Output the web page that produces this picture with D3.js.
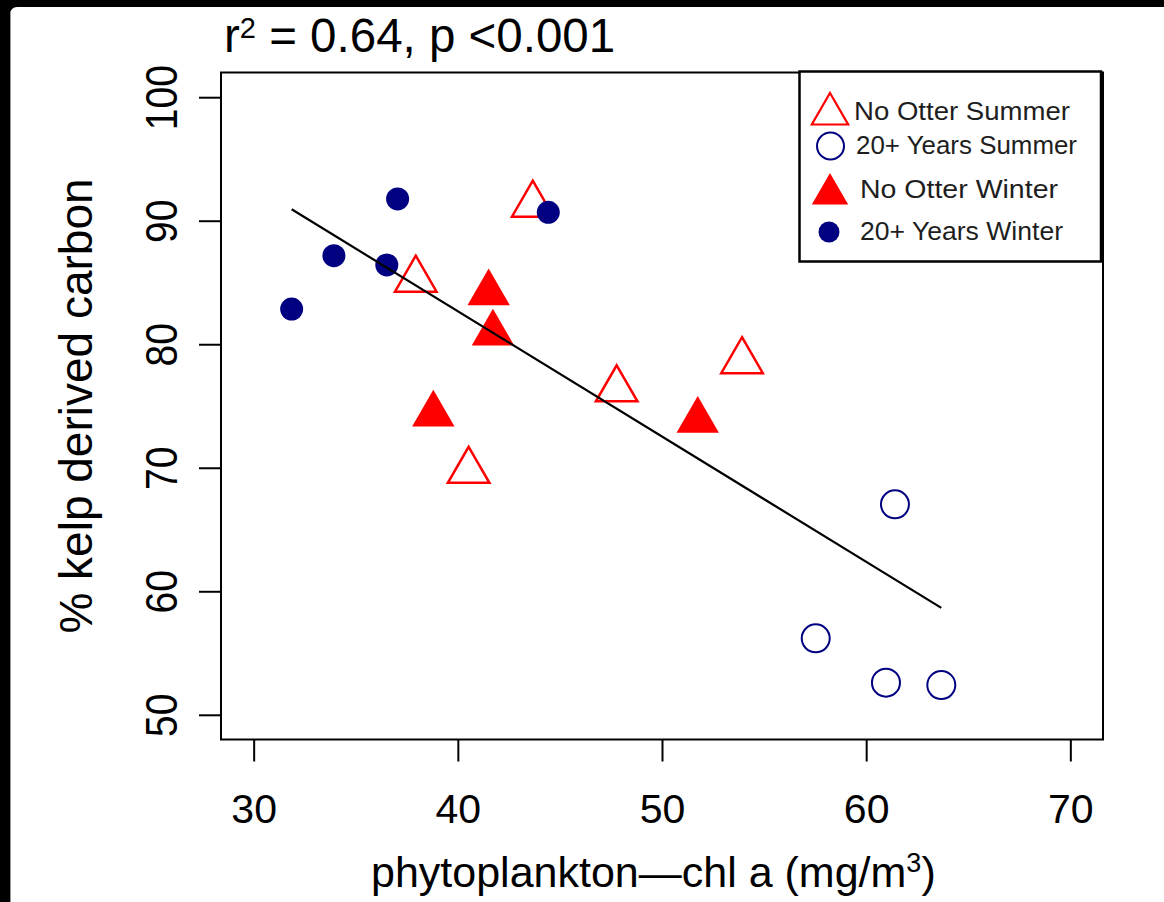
<!DOCTYPE html>
<html>
<head>
<meta charset="utf-8">
<script src="https://cdn.jsdelivr.net/npm/d3@7"></script>
<style>
  html, body { margin: 0; padding: 0; background: #fff; }
  svg { display: block; }
  text { font-family: "Liberation Sans", Arial, sans-serif; }
</style>
</head>
<body>
<svg id="chart" width="1164" height="902"></svg>
<script>
// Kelp-derived carbon vs. phytoplankton chlorophyll a, by site group and season
const noOtterSummerX = [43.67, 37.94, 47.78, 53.92, 40.53];
const noOtterSummerY = [91.30, 85.23, 76.35, 78.63, 69.75];

const yearsSummerX = [61.41, 57.53, 60.97, 63.68];
const yearsSummerY = [67.04, 56.19, 52.60, 52.41];

const noOtterWinterX = [41.51, 41.72, 38.80, 51.75];
const noOtterWinterY = [84.15, 80.89, 74.34, 73.83];

const yearsWinterX = [31.86, 33.93, 36.52, 37.05, 44.43];
const yearsWinterY = [82.85, 87.17, 86.42, 91.76, 90.68];

const xTicks = [30, 40, 50, 60, 70];
const yTicks = [50, 60, 70, 80, 90, 100];
const legendLabels = ["No Otter Summer", "20+ Years Summer", "No Otter Winter", "20+ Years Winter"];

const svg = d3.select("#chart");

// dark frame on the top and left edges
svg.append("rect").attr("x", 0).attr("y", 0).attr("width", 1164).attr("height", 902).attr("fill", "#000");
svg.append("rect").attr("x", 10).attr("y", 7).attr("width", 1200).attr("height", 950)
  .attr("rx", 7).attr("fill", "#fff");
svg.append("line").attr("x1", 10.5).attr("x2", 10.5).attr("y1", 12).attr("y2", 902)
  .attr("stroke", "#9a9a9a").attr("stroke-width", 1);

// scales: limits 30–70 and 50–100 with 4% padding on each side
const xLim = [30, 70], yLim = [50, 100];
const xPad = (xLim[1] - xLim[0]) * 0.04, yPad = (yLim[1] - yLim[0]) * 0.04;
const plot = { left: 221, right: 1103, top: 72.5, bottom: 739.5 };
const x = d3.scaleLinear().domain([xLim[0] - xPad, xLim[1] + xPad]).range([plot.left, plot.right]);
const y = d3.scaleLinear().domain([yLim[0] - yPad, yLim[1] + yPad]).range([plot.bottom, plot.top]);

// x axis
const gx = svg.append("g").attr("transform", `translate(0,${plot.bottom})`)
  .call(d3.axisBottom(x).tickValues(xTicks).tickSize(22).tickPadding(32).tickFormat(d3.format("d")));
gx.select(".domain").remove();
gx.selectAll(".tick line").attr("stroke", "#000").attr("stroke-width", 2);
gx.selectAll(".tick text").attr("font-size", 41).attr("fill", "#000")
  .attr("font-family", "'Liberation Sans', Arial, sans-serif");

// y axis with rotated labels
const gy = svg.append("g").attr("transform", `translate(${plot.left},0)`)
  .call(d3.axisLeft(y).tickValues(yTicks).tickSize(22).tickFormat(d3.format("d")));
gy.select(".domain").remove();
gy.selectAll(".tick line").attr("stroke", "#000").attr("stroke-width", 2);
gy.selectAll(".tick text")
  .attr("x", null).attr("dy", null).attr("y", null)
  .attr("text-anchor", "middle")
  .attr("transform", "translate(-44,0) rotate(-90) scale(1,1.13)")
  .attr("font-size", 39).attr("fill", "#000")
  .attr("font-family", "'Liberation Sans', Arial, sans-serif");

// plot frame
svg.append("rect").attr("x", plot.left).attr("y", plot.top)
  .attr("width", plot.right - plot.left).attr("height", plot.bottom - plot.top)
  .attr("fill", "none").attr("stroke", "#000").attr("stroke-width", 2);

// marker helpers
const tri = r => `M0,${-r}L${r * Math.sqrt(3) / 2},${r / 2}L${-r * Math.sqrt(3) / 2},${r / 2}Z`;
const RED = "#ff0000", NAVY = "#000080";

const pts = (xs, ys) => xs.map((v, i) => ({ x: v, y: ys[i] }));
const layer = svg.append("g");

layer.selectAll(".nos").data(pts(noOtterSummerX, noOtterSummerY)).join("path")
  .attr("d", tri(24)).attr("transform", d => `translate(${x(d.x)},${y(d.y)})`)
  .attr("fill", "none").attr("stroke", RED).attr("stroke-width", 2.5);

layer.selectAll(".ys").data(pts(yearsSummerX, yearsSummerY)).join("circle")
  .attr("cx", d => x(d.x)).attr("cy", d => y(d.y)).attr("r", 14)
  .attr("fill", "none").attr("stroke", NAVY).attr("stroke-width", 2);

layer.selectAll(".now").data(pts(noOtterWinterX, noOtterWinterY)).join("path")
  .attr("d", tri(24.5)).attr("transform", d => `translate(${x(d.x)},${y(d.y)})`)
  .attr("fill", RED);

layer.selectAll(".yw").data(pts(yearsWinterX, yearsWinterY)).join("circle")
  .attr("cx", d => x(d.x)).attr("cy", d => y(d.y)).attr("r", 11.5)
  .attr("fill", NAVY);

// least-squares fit across all samples, drawn over the observed x range
const allX = [...noOtterSummerX, ...yearsSummerX, ...noOtterWinterX, ...yearsWinterX];
const allY = [...noOtterSummerY, ...yearsSummerY, ...noOtterWinterY, ...yearsWinterY];
const mx = d3.mean(allX), my = d3.mean(allY);
const sxy = d3.sum(allX, (v, i) => (v - mx) * (allY[i] - my));
const sxx = d3.sum(allX, v => (v - mx) ** 2);
const slope = sxy / sxx, intercept = my - slope * mx;
const [x0, x1] = d3.extent(allX);
svg.append("line")
  .attr("x1", x(x0)).attr("y1", y(intercept + slope * x0))
  .attr("x2", x(x1)).attr("y2", y(intercept + slope * x1))
  .attr("stroke", "#000").attr("stroke-width", 2.2);

// legend
const lg = svg.append("g");
lg.append("rect").attr("x", 799.5).attr("y", 71.5).attr("width", 301.5).attr("height", 190)
  .attr("fill", "#fff").attr("stroke", "#000").attr("stroke-width", 2.5);
const legendItems = [
  { label: legendLabels[0], kind: "openTri", cy: 114, tx: 854, ty: 120, len: 216 },
  { label: legendLabels[1], kind: "openCirc", cy: 146, tx: 856, ty: 154, len: 221 },
  { label: legendLabels[2], kind: "fillTri", cy: 194, tx: 860, ty: 198, len: 198 },
  { label: legendLabels[3], kind: "fillCirc", cy: 232, tx: 860, ty: 240, len: 203 }
];
legendItems.forEach(it => {
  if (it.kind === "openTri") {
    lg.append("path").attr("d", tri(21)).attr("transform", `translate(830,${it.cy})`)
      .attr("fill", "none").attr("stroke", RED).attr("stroke-width", 2.2);
  } else if (it.kind === "openCirc") {
    lg.append("circle").attr("cx", 830.5).attr("cy", it.cy).attr("r", 13.5)
      .attr("fill", "none").attr("stroke", NAVY).attr("stroke-width", 2);
  } else if (it.kind === "fillTri") {
    lg.append("path").attr("d", tri(21)).attr("transform", `translate(830,${it.cy})`).attr("fill", RED);
  } else {
    lg.append("circle").attr("cx", 829).attr("cy", it.cy).attr("r", 10.5).attr("fill", NAVY);
  }
  lg.append("text").attr("x", it.tx).attr("y", it.ty)
    .attr("font-family", "Lato, 'Open Sans', sans-serif").attr("font-size", 25)
    .attr("fill", "#1e1e1e")
    .attr("textLength", it.len).attr("lengthAdjust", "spacingAndGlyphs")
    .text(it.label);
});

// title with r-squared and p value
const title = svg.append("text").attr("x", 224).attr("y", 52).attr("font-size", 47.5).attr("fill", "#000");
title.append("tspan").text("r");
title.append("tspan").attr("font-size", 29).attr("dy", -14).text("2");
title.append("tspan").attr("dy", 14).text(" = 0.64, p <0.001");

// axis titles
const xt = svg.append("text").attr("x", 371).attr("y", 887).attr("font-size", 43).attr("fill", "#000");
xt.append("tspan").text("phytoplankton—chl a (mg/m");
xt.append("tspan").attr("font-size", 27).attr("dy", -15).text("3");
xt.append("tspan").attr("dy", 15).text(")");

svg.append("text")
  .attr("transform", `translate(92,${(plot.top + plot.bottom) / 2}) rotate(-90)`)
  .attr("text-anchor", "middle").attr("font-size", 46).attr("fill", "#000")
  .text("% kelp derived carbon");
</script>
</body>
</html>
